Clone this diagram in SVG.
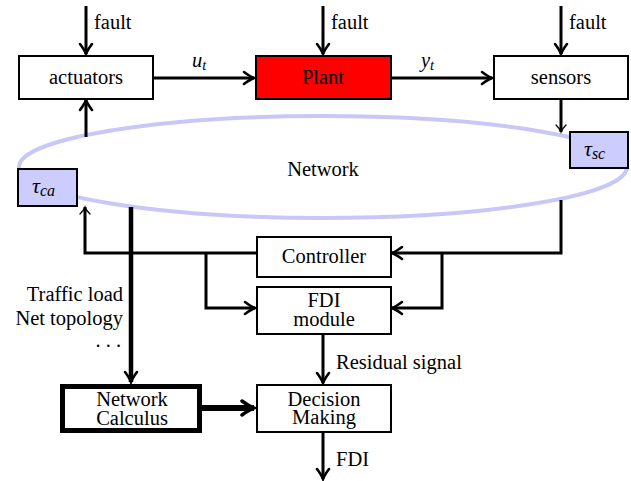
<svg xmlns="http://www.w3.org/2000/svg" width="631" height="481" viewBox="0 0 631 481">
<style>
text{font-family:"Liberation Serif","Times New Roman",serif;font-size:20.5px;fill:#000}
.c{text-anchor:middle}
.e{text-anchor:end}
.m{font-style:italic}
.box{fill:#fff;stroke:#000;stroke-width:2}
.tau{fill:#ccccff;stroke:#000;stroke-width:2}
.ln{fill:none;stroke:#000;stroke-width:3}
</style>
<defs>
<marker id="ah" viewBox="-12 -8 14 16" refX="0" refY="0" markerWidth="14" markerHeight="16" markerUnits="userSpaceOnUse" orient="auto" overflow="visible">
<path d="M-10,-6 Q-4,-1.5 0,0 Q-4,1.5 -10,6" fill="none" stroke="#000" stroke-width="2.6" stroke-linecap="round"/>
</marker>
<marker id="aht" viewBox="-12 -8 14 16" refX="0" refY="0" markerWidth="14" markerHeight="16" markerUnits="userSpaceOnUse" orient="auto" overflow="visible">
<path d="M-7,-5 Q-3,-1 0,0 Q-3,1 -7,5" fill="none" stroke="#000" stroke-width="1.3" stroke-linecap="round"/>
</marker>
<marker id="ahb" viewBox="-16 -10 18 20" refX="0" refY="0" markerWidth="18" markerHeight="20" markerUnits="userSpaceOnUse" orient="auto" overflow="visible">
<path d="M-12,-7 Q-5,-2 0,0 Q-5,2 -12,7" fill="none" stroke="#000" stroke-width="3.5" stroke-linecap="round"/>
</marker>
</defs>
<rect width="631" height="481" fill="#fff"/>

<g id="network">
<ellipse cx="323" cy="167" rx="304" ry="51" fill="none" stroke="#c8c8f8" stroke-width="4"/>
<text class="c" x="323" y="176">Network</text>
</g>

<g id="connectors">
<path class="ln" d="M86,6 V54" marker-end="url(#ah)"/>
<path class="ln" d="M323,6 V54" marker-end="url(#ah)"/>
<path class="ln" d="M561,6 V54" marker-end="url(#ah)"/>
<path class="ln" d="M153,78 H254" marker-end="url(#ah)"/>
<path class="ln" d="M391,78 H492" marker-end="url(#ah)"/>
<path class="ln" d="M86,137 V100" marker-end="url(#ah)"/>
<path class="ln" d="M561,99 V132" marker-end="url(#aht)"/>
<path class="ln" d="M561,200 V253 H392" marker-end="url(#ah)"/>
<path class="ln" d="M442,253 V308 H392" marker-end="url(#ah)"/>
<path class="ln" d="M257,253 H85 V207" marker-end="url(#aht)"/>
<path class="ln" d="M206,253 V308 H255" marker-end="url(#ah)"/>
<path class="ln" d="M131,207 V382" style="stroke-width:4.5" marker-end="url(#ah)"/>
<path class="ln" d="M323,334 V383" marker-end="url(#ah)"/>
<path class="ln" d="M202,408 H254" style="stroke-width:6" marker-end="url(#ahb)"/>
<path class="ln" d="M323,432 V479" marker-end="url(#ah)"/>
<text x="94" y="29">fault</text>
<text x="331" y="29">fault</text>
<text x="569" y="29">fault</text>
<text class="m" x="192" y="67">u<tspan font-size="14.5" dy="3">t</tspan></text>
<text class="m" x="421" y="67">y<tspan font-size="14.5" dy="3">t</tspan></text>
<text class="e" x="123" y="301">Traffic load</text>
<text class="e" x="123" y="325">Net topology</text>
<text class="e" x="121" y="347">. . .</text>
<text x="336" y="369">Residual signal</text>
<text x="336" y="466">FDI</text>
</g>

<g id="actuators">
<rect class="box" x="19" y="56" width="134" height="43"/>
<text class="c" x="86" y="84">actuators</text>
</g>
<g id="plant">
<rect x="256" y="56" width="135" height="43" fill="#f00" stroke="#000" stroke-width="2"/>
<text class="c" x="323" y="84">Plant</text>
</g>
<g id="sensors">
<rect class="box" x="494" y="56" width="134" height="43"/>
<text class="c" x="561" y="84">sensors</text>
</g>
<g id="tau_sc">
<rect class="tau" x="570" y="132" width="58" height="36"/>
<text class="m" x="584" y="156" style="font-size:22px">τ<tspan style="font-size:16px" dy="3">sc</tspan></text>
</g>
<g id="tau_ca">
<rect class="tau" x="18" y="169" width="59" height="37"/>
<text class="m" x="32" y="193" style="font-size:22px">τ<tspan style="font-size:16px" dy="3">ca</tspan></text>
</g>
<g id="controller">
<rect class="box" x="257" y="237" width="134" height="40"/>
<text class="c" x="324" y="263">Controller</text>
</g>
<g id="fdi">
<rect class="box" x="257" y="287" width="134" height="47"/>
<text class="c" x="324" y="307">FDI</text>
<text class="c" x="324" y="326">module</text>
</g>
<g id="netcalc">
<rect class="box" x="62.5" y="386.5" width="137" height="44" style="stroke-width:5"/>
<text class="c" x="132" y="406">Network</text>
<text class="c" x="132" y="425">Calculus</text>
</g>
<g id="decision">
<rect class="box" x="257" y="385" width="134" height="47"/>
<text class="c" x="324" y="406">Decision</text>
<text class="c" x="324" y="424">Making</text>
</g>
</svg>
